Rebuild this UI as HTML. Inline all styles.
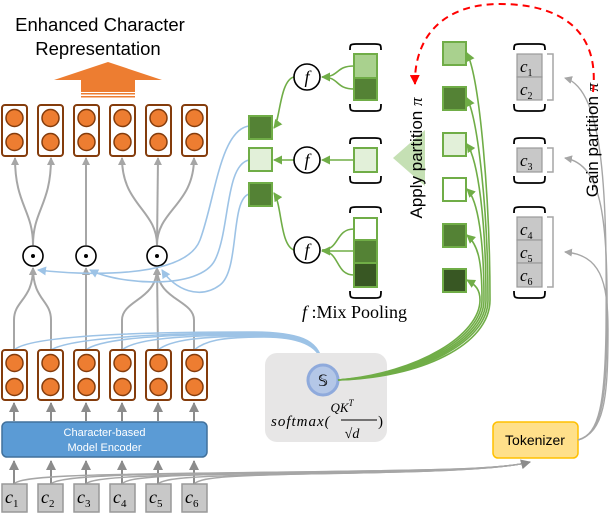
<!DOCTYPE html>
<html><head><meta charset="utf-8"><style>
html,body{margin:0;padding:0;background:#fff;}
svg{display:block;}
</style></head><body>
<svg width="612" height="516" viewBox="0 0 612 516" xmlns="http://www.w3.org/2000/svg" font-family="Liberation Sans, sans-serif">
<defs>
<marker id="ag" markerWidth="8" markerHeight="8" refX="7" refY="4" orient="auto" markerUnits="userSpaceOnUse"><path d="M0,0 L8,4 L0,8z" fill="#a6a6a6"/></marker>
<marker id="agd" markerWidth="10" markerHeight="10" refX="9" refY="5" orient="auto" markerUnits="userSpaceOnUse"><path d="M0,0 L10,5 L0,10z" fill="#8c8c8c"/></marker>
<marker id="agr" markerWidth="9" markerHeight="9" refX="8" refY="4.5" orient="auto" markerUnits="userSpaceOnUse"><path d="M0,0 L9,4.5 L0,9z" fill="#70ad47"/></marker>
<marker id="ab" markerWidth="9" markerHeight="9" refX="8" refY="4.5" orient="auto" markerUnits="userSpaceOnUse"><path d="M0,0 L9,4.5 L0,9z" fill="#9dc3e6"/></marker>
<marker id="ar" markerWidth="10" markerHeight="10" refX="9" refY="5" orient="auto" markerUnits="userSpaceOnUse"><path d="M0,0 L10,5 L0,10z" fill="#ff0000"/></marker>
</defs>

<!-- title -->
<text x="100" y="31" font-size="18.5" text-anchor="middle">Enhanced Character</text>
<text x="98" y="55" font-size="18.5" text-anchor="middle">Representation</text>
<!-- orange arrow -->
<path d="M54,80 L108,62 L162,80 L135,80 L135,92 L81,92 L81,80z" fill="#ed7d31"/>
<rect x="81" y="93" width="54" height="1.5" fill="#ed7d31"/>
<rect x="81" y="96" width="54" height="1.5" fill="#ed7d31"/>

<!-- top vectors -->
<g fill="#ed7d31" stroke="#843c0c" stroke-width="1.5">
<g id="v"><rect x="2" y="105" width="25" height="51" rx="3" fill="#fff" stroke-width="2"/><circle cx="14.5" cy="118" r="8.5"/><circle cx="14.5" cy="142" r="8.5"/></g>
<use href="#v" x="36"/><use href="#v" x="72"/><use href="#v" x="108"/><use href="#v" x="144"/><use href="#v" x="180"/>
</g>

<g fill="none" stroke="#a6a6a6" stroke-width="2">
<path d="M33,245 C33,210 15,205 15,158" marker-end="url(#ag)"/>
<path d="M33,245 C33,210 51,205 51,158" marker-end="url(#ag)"/>
<path d="M86,245 L86,158" marker-end="url(#ag)"/>
<path d="M157,245 C157,210 122,205 122,158" marker-end="url(#ag)"/>
<path d="M157,245 L158,158" marker-end="url(#ag)"/>
<path d="M157,245 C157,210 194,205 194,158" marker-end="url(#ag)"/>
<path d="M14,350 L14,320 C14,300 33,300 33,268" marker-end="url(#ag)"/>
<path d="M51,350 L51,320 C51,300 33,300 33,268" marker-end="url(#ag)"/>
<path d="M86,350 L86,268" marker-end="url(#ag)"/>
<path d="M122,350 L122,320 C122,300 157,300 157,268" marker-end="url(#ag)"/>
<path d="M158,350 L157,268" marker-end="url(#ag)"/>
<path d="M194,350 L194,320 C194,300 157,300 157,268" marker-end="url(#ag)"/>
</g>

<g fill="#fff" stroke="#000" stroke-width="1.6">
<circle cx="33" cy="256" r="10"/><circle cx="86" cy="256" r="10"/><circle cx="157" cy="256" r="10"/>
</g>
<g fill="#000"><circle cx="33" cy="256" r="2"/><circle cx="86" cy="256" r="2"/><circle cx="157" cy="256" r="2"/></g>

<g fill="none" stroke="#9dc3e6" stroke-width="1.6">
<path d="M249,126 C220,130 215,200 200,240 C185,280 80,275 38,270" marker-end="url(#ab)"/>
<path d="M249,160 C225,165 230,230 215,260 C200,290 120,285 90,270" marker-end="url(#ab)"/>
<path d="M249,194 C230,200 240,270 220,285 C200,300 175,290 162,270" marker-end="url(#ab)"/>
<path d="M14,350 C30,335 150,332 250,332 C300,332 318,340 322,362" marker-end="url(#ab)"/>
<path d="M51,350 C70,338 160,333 255,333 C300,333 318,342 322,362"/>
<path d="M86,350 C100,338 170,334 258,334 C300,334 318,343 322,362"/>
<path d="M122,350 C135,339 180,335 260,335 C300,335 318,344 322,362"/>
<path d="M158,350 C170,340 200,336 262,336 C300,336 318,345 322,362"/>
<path d="M194,350 C205,341 220,337 264,337 C300,337 318,346 322,362"/>
</g>

<g fill="#ed7d31" stroke="#843c0c" stroke-width="1.5">
<g id="w"><rect x="2" y="350" width="25" height="50" rx="3" fill="#fff" stroke-width="2"/><circle cx="14.5" cy="363" r="8.5"/><circle cx="14.5" cy="387" r="8.5"/></g>
<use href="#w" x="36"/><use href="#w" x="72"/><use href="#w" x="108"/><use href="#w" x="144"/><use href="#w" x="180"/>
</g>

<rect x="2" y="422" width="205" height="35" rx="5" fill="#5b9bd5" stroke="#41719c" stroke-width="1.5"/>
<text x="104.5" y="436" font-size="11" fill="#fff" text-anchor="middle">Character-based</text>
<text x="104.5" y="451" font-size="11" fill="#fff" text-anchor="middle">Model  Encoder</text>

<g stroke="#8c8c8c" stroke-width="2" fill="none">
<path d="M14,484 L14,461" marker-end="url(#agd)"/><path d="M51,484 L51,461" marker-end="url(#agd)"/><path d="M86,484 L86,461" marker-end="url(#agd)"/><path d="M122,484 L122,461" marker-end="url(#agd)"/><path d="M158,484 L158,461" marker-end="url(#agd)"/><path d="M194,484 L194,461" marker-end="url(#agd)"/>
<path d="M14,421 L14,403" marker-end="url(#agd)"/><path d="M51,421 L51,403" marker-end="url(#agd)"/><path d="M86,421 L86,403" marker-end="url(#agd)"/><path d="M122,421 L122,403" marker-end="url(#agd)"/><path d="M158,421 L158,403" marker-end="url(#agd)"/><path d="M194,421 L194,403" marker-end="url(#agd)"/>
</g>
<g stroke="#a6a6a6" stroke-width="1.4" fill="none">
<path d="M14,484 C20,475 100,474 300,472 C420,470 500,470 530,462"/>
<path d="M51,484 C58,476 120,474 300,472 C420,470 500,470 530,462"/>
<path d="M86,484 C92,477 140,475 300,473 C420,471 500,470 530,462"/>
<path d="M122,484 C128,477 160,475 300,473 C420,471 500,470 530,462"/>
<path d="M158,484 C164,478 190,476 300,474 C420,472 500,470 530,462"/>
<path d="M194,484 C200,478 220,476 300,474 C420,472 500,470 530,462" marker-end="url(#agd)"/>
</g>

<g fill="#c8c8c8" stroke="#999" stroke-width="1.5">
<rect x="2" y="484" width="25" height="28"/><rect x="38" y="484" width="25" height="28"/><rect x="74" y="484" width="25" height="28"/><rect x="110" y="484" width="25" height="28"/><rect x="146" y="484" width="25" height="28"/><rect x="182" y="484" width="25" height="28"/>
</g>
<g font-family="Liberation Serif, serif" font-style="italic" font-size="18">
<text x="5" y="503">c<tspan font-size="11" font-style="normal" dy="4">1</tspan></text>
<text x="41" y="503">c<tspan font-size="11" font-style="normal" dy="4">2</tspan></text>
<text x="77" y="503">c<tspan font-size="11" font-style="normal" dy="4">3</tspan></text>
<text x="113" y="503">c<tspan font-size="11" font-style="normal" dy="4">4</tspan></text>
<text x="149" y="503">c<tspan font-size="11" font-style="normal" dy="4">5</tspan></text>
<text x="185" y="503">c<tspan font-size="11" font-style="normal" dy="4">6</tspan></text>
</g>

<rect x="265" y="353" width="122" height="89" rx="12" fill="#e7e6e6"/>
<circle cx="323" cy="380" r="15" fill="#b4c7e7" stroke="#8faadc" stroke-width="3"/>
<text x="323" y="386" font-size="16" text-anchor="middle" font-family="DejaVu Sans, sans-serif">𝕊</text>
<text x="271" y="426" font-family="Liberation Serif, serif" font-style="italic" font-size="15" letter-spacing="1">softmax(</text>
<text x="342" y="412" font-family="Liberation Serif, serif" font-style="italic" font-size="13" text-anchor="middle">QK<tspan font-size="9" dy="-6">T</tspan></text>
<line x1="341" y1="420" x2="377" y2="420" stroke="#000" stroke-width="1"/>
<line x1="341" y1="420" x2="377" y2="420" stroke="#000" stroke-width="0"/>
<text x="352" y="438" font-size="14" text-anchor="middle" font-family="Liberation Serif, serif">√<tspan font-style="italic">d</tspan></text>
<text x="378" y="426" font-size="15" font-family="Liberation Serif, serif">)</text>

<rect x="493" y="422" width="85" height="36" rx="5" fill="#ffe08a" stroke="#ffc000" stroke-width="1.5"/>
<text x="535" y="445" font-size="14" text-anchor="middle">Tokenizer</text>

<g stroke="#a6a6a6" stroke-width="1.4" fill="none">
<path d="M578,440 C600,435 605,400 606,330 C607,200 605,90 565,78" marker-end="url(#ag)"/>
<path d="M578,440 C602,433 606,400 607,330 C608,220 603,165 565,158" marker-end="url(#ag)"/>
<path d="M578,440 C604,432 608,400 608,330 C608,280 600,255 565,252" marker-end="url(#ag)"/>
</g>

<g stroke="#70ad47" stroke-width="1.6" fill="none">
<path d="M338,380 C420,378 490,345 490,300 C490,200 480,80 467,53" marker-end="url(#agr)"/>
<path d="M338,380 C420,377 488,342 488,300 C488,210 478,120 467,98" marker-end="url(#agr)"/>
<path d="M338,380 C420,376 486,340 486,300 C486,220 478,160 467,144" marker-end="url(#agr)"/>
<path d="M338,380 C420,375 484,338 484,300 C484,240 478,200 467,189" marker-end="url(#agr)"/>
<path d="M338,380 C420,374 482,336 482,300 C482,260 478,245 467,235" marker-end="url(#agr)"/>
<path d="M338,380 C420,373 480,334 480,300 C480,290 476,285 467,280" marker-end="url(#agr)"/>
</g>

<g stroke="#70ad47" stroke-width="2">
<rect x="443" y="42" width="23" height="23" fill="#a9d18e"/>
<rect x="443" y="87" width="23" height="23" fill="#548235"/>
<rect x="443" y="133" width="23" height="23" fill="#e2f0d9"/>
<rect x="443" y="178" width="23" height="23" fill="#fff"/>
<rect x="443" y="224" width="23" height="23" fill="#548235"/>
<rect x="443" y="269" width="23" height="23" fill="#385723"/>
</g>

<g fill="#c8c8c8" stroke="#999" stroke-width="1.2">
<rect x="517" y="54" width="25" height="23"/><rect x="517" y="77" width="25" height="23"/>
<rect x="517" y="148" width="25" height="24"/>
<rect x="517" y="217" width="25" height="23"/><rect x="517" y="240" width="25" height="23"/><rect x="517" y="263" width="25" height="24"/>
</g>
<g font-family="Liberation Serif, serif" font-style="italic" font-size="17">
<text x="520" y="72">c<tspan font-size="10" font-style="normal" dy="4">1</tspan></text>
<text x="520" y="95">c<tspan font-size="10" font-style="normal" dy="4">2</tspan></text>
<text x="520" y="166">c<tspan font-size="10" font-style="normal" dy="4">3</tspan></text>
<text x="520" y="235">c<tspan font-size="10" font-style="normal" dy="4">4</tspan></text>
<text x="520" y="258">c<tspan font-size="10" font-style="normal" dy="4">5</tspan></text>
<text x="520" y="281">c<tspan font-size="10" font-style="normal" dy="4">6</tspan></text>
</g>
<g fill="none" stroke="#000" stroke-width="1.8">
<path d="M514,50 C514,45 514,44 520,44 L539,44 C545,44 545,45 545,50"/>
<path d="M514,104 C514,110 514,111 520,111 L539,111 C545,111 545,110 545,104"/>
<path d="M514,144 C514,139 514,138 520,138 L539,138 C545,138 545,139 545,144"/>
<path d="M514,176 C514,182 514,183 520,183 L539,183 C545,183 545,182 545,176"/>
<path d="M514,213 C514,208 514,207 520,207 L539,207 C545,207 545,208 545,213"/>
<path d="M514,291 C514,297 514,298 520,298 L539,298 C545,298 545,297 545,291"/>
<path d="M350,50 C350,45 350,44 356,44 L375,44 C381,44 381,45 381,50"/>
<path d="M350,104 C350,110 350,111 356,111 L375,111 C381,111 381,110 381,104"/>
<path d="M350,144 C350,139 350,138 356,138 L375,138 C381,138 381,139 381,144"/>
<path d="M350,176 C350,182 350,183 356,183 L375,183 C381,183 381,182 381,176"/>
<path d="M350,213 C350,208 350,207 356,207 L375,207 C381,207 381,208 381,213"/>
<path d="M350,291 C350,297 350,298 356,298 L375,298 C381,298 381,297 381,291"/>
</g>
<g fill="none" stroke="#a6a6a6" stroke-width="1.5">
<path d="M547,54 L553,54 L553,100 L547,100"/>
<path d="M547,148 L553,148 L553,172 L547,172"/>
<path d="M547,217 L553,217 L553,287 L547,287"/>
</g>

<g stroke="#70ad47" stroke-width="2">
<rect x="354" y="54" width="23" height="24" fill="#a9d18e"/>
<rect x="354" y="78" width="23" height="22" fill="#548235"/>
<rect x="354" y="148" width="23" height="24" fill="#e2f0d9"/>
<rect x="354" y="218" width="23" height="22" fill="#fff"/>
<rect x="354" y="240" width="23" height="23" fill="#548235"/>
<rect x="354" y="263" width="23" height="24" fill="#385723"/>
</g>
<g stroke="#70ad47" stroke-width="1.6" fill="none">
<path d="M354,66 C335,66 340,77 322,77" marker-end="url(#agr)"/>
<path d="M354,89 C335,89 340,77 322,77"/>
<path d="M354,160 L322,160" marker-end="url(#agr)"/>
<path d="M354,229 C335,229 340,250 322,250"/>
<path d="M354,251 L322,251" marker-end="url(#agr)"/>
<path d="M354,275 C335,275 340,251 322,251"/>
<path d="M294,77 C280,80 280,120 274,128" marker-end="url(#agr)"/>
<path d="M294,160 L274,160" marker-end="url(#agr)"/>
<path d="M294,250 C280,245 282,205 274,193" marker-end="url(#agr)"/>
</g>
<g fill="#fff" stroke="#000" stroke-width="1.6">
<circle cx="307" cy="77" r="13"/><circle cx="307" cy="160" r="13"/><circle cx="307" cy="250" r="13"/>
</g>
<g font-family="Liberation Serif, serif" font-style="italic" font-size="18" text-anchor="middle">
<text x="307" y="83">f</text><text x="307" y="166">f</text><text x="307" y="256">f</text>
</g>
<g stroke="#70ad47" stroke-width="2">
<rect x="249" y="116" width="23" height="23" fill="#548235"/>
<rect x="249" y="148" width="23" height="23" fill="#e2f0d9"/>
<rect x="249" y="183" width="23" height="23" fill="#548235"/>
</g>
<text x="302" y="318" font-size="18" font-family="Liberation Serif, serif"><tspan font-style="italic">f</tspan>  :Mix Pooling</text>

<path d="M393,158 L425,130 L425,186z" fill="#c5e0b4"/>
<text transform="translate(422,158) rotate(-90)" font-size="17" text-anchor="middle">Apply partition  <tspan font-family="Liberation Serif, serif" font-style="italic">π</tspan></text>
<text transform="translate(598,140) rotate(-90)" font-size="17" text-anchor="middle">Gain partition  <tspan font-family="Liberation Serif, serif" font-style="italic">π</tspan></text>

<path d="M593,92 C600,30 560,4 500,4 C440,4 414,40 415,84" fill="none" stroke="#ff0000" stroke-width="2" stroke-dasharray="7,5" marker-end="url(#ar)"/>
</svg>
</body></html>
